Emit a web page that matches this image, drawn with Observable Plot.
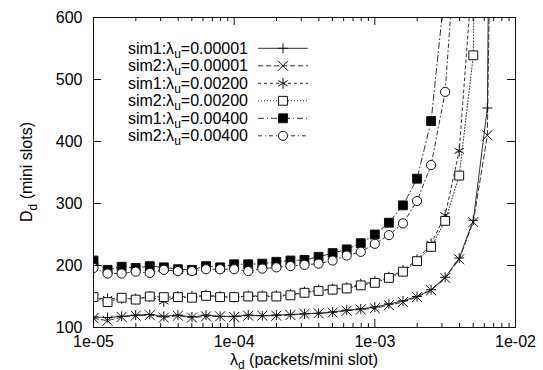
<!DOCTYPE html>
<html><head><meta charset="utf-8">
<script src="https://cdn.jsdelivr.net/npm/d3@7"></script>
<script src="https://cdn.jsdelivr.net/npm/@observablehq/plot@0.6"></script>
<style>
body{margin:0;background:#fff}
svg{font-family:"Liberation Sans",Arial,Helvetica,sans-serif}
</style>
</head><body><div id="chart"></div>
<script>
// x positions (lambda_d) of the simulation points
const xVals = [1e-5, 1.259e-5, 1.585e-5, 1.995e-5, 2.512e-5, 3.162e-5, 3.981e-5, 5.012e-5, 6.310e-5, 7.943e-5,
  1e-4, 1.259e-4, 1.585e-4, 1.995e-4, 2.512e-4, 3.162e-4, 3.981e-4, 5.012e-4, 6.310e-4, 7.943e-4,
  1e-3, 1.259e-3, 1.585e-3, 1.995e-3, 2.512e-3, 3.162e-3, 3.981e-3, 5.012e-3, 6.310e-3, 7.943e-3];

const sim1_00001 = [117,116,118,120,121,118,120,117,120,118, 118,120,119,120,121,122,123,125,128,130, 133,138,143,150,161,181,212,273,454,3000];
const sim2_00001 = [115,111,117,119,120,116,119,116,118,118, 117,119,119,119,120,122,123,124,127,129, 131,136,141,149,160,180,210,270,410,2000];
const sim1_00200 = [148,146,147,146,150,142,150,150,152,150, 149,151,151,151,153,157,160,162,164,170, 174,181,192,209,235,281,385,690];
const sim2_00200 = [149,141,148,145,150,149,149,148,151,149, 149,150,150,150,152,156,159,161,163,168, 172,180,190,207,230,272,345,539,2000];
const sim1_00400 = [208,193,198,196,199,197,194,193,199,197, 202,202,203,206,208,209,214,220,226,236, 250,269,297,340,433,650];
const sim2_00400 = [196,187,187,190,188,193,191,191,194,194, 194,191,195,197,199,201,203,208,216,222, 235,249,268,304,362,480,800];

const seriesNames = ["sim1:0.00001","sim2:0.00001","sim1:0.00200","sim2:0.00200","sim1:0.00400","sim2:0.00400"];
const seriesSim = ["sim1","sim2","sim1","sim2","sim1","sim2"];
const seriesLambda = ["0.00001","0.00001","0.00200","0.00200","0.00400","0.00400"];
const seriesValues = [sim1_00001, sim2_00001, sim1_00200, sim2_00200, sim1_00400, sim2_00400];

const xMajor = [1e-5, 1e-4, 1e-3, 1e-2];
const xTickLabels = ["1e-05","1e-04","1e-03","1e-02"];
const xMinor = [2e-5,3e-5,4e-5,5e-5,6e-5,7e-5,8e-5,9e-5, 2e-4,3e-4,4e-4,5e-4,6e-4,7e-4,8e-4,9e-4, 2e-3,3e-3,4e-3,5e-3,6e-3,7e-3,8e-3,9e-3];
const yTicks = [100,200,300,400,500,600];

// styles (kept apart from data)
const styles = [
  {dash: null,        symbol: "plus",     r: 3.3, fill: "none"},
  {dash: "5,3",       symbol: "times",    r: 4.6, fill: "none"},
  {dash: "3,3",       symbol: "asterisk", r: 5.2, fill: "none"},
  {dash: "1,2",       symbol: "square",   r: 5,   fill: "white"},
  {dash: "6,3,1,3",   symbol: "square",   r: 5,   fill: "black"},
  {dash: "4,3,1,3",   symbol: "circle",   r: 4.6, fill: "white"}
];

const rows = [];
seriesValues.forEach((vals, s) => vals.forEach((v, i) => rows.push({s, name: seriesNames[s], x: xVals[i], y: v})));

const W = 543, H = 370, mL = 93, mR = 28, mT = 17, mB = 43;
const pw = W - mL - mR, ph = H - mT - mB;
const ink = "#111";

const marks = [];
styles.forEach((st, s) => {
  const d = rows.filter(r => r.s === s);
  marks.push(Plot.line(d, {x: "x", y: "y", stroke: "#333", strokeWidth: 1, strokeDasharray: st.dash, clip: true}));
});
styles.forEach((st, s) => {
  const d = rows.filter(r => r.s === s);
  marks.push(Plot.dot(d, {x: "x", y: "y", symbol: () => st.symbol, r: st.r, stroke: ink, strokeWidth: 1, fill: st.fill, clip: true}));
});

const chart = Plot.plot({
  width: W, height: H,
  marginLeft: mL, marginRight: mR, marginTop: mT, marginBottom: mB,
  x: {type: "log", domain: [1e-5, 1e-2]},
  y: {domain: [100, 600]},
  symbol: {type: "identity"},
  style: {fontFamily: '"Liberation Sans",Arial,sans-serif', fontSize: "16px", background: "white", color: "black"},
  marks: [
    ...marks,
    Plot.tickX(xMajor, {x: d => d, insetTop: ph - 8, stroke: ink}),
    Plot.tickX(xMajor, {x: d => d, insetBottom: ph - 8, stroke: ink}),
    Plot.tickX(xMinor, {x: d => d, insetTop: ph - 4, stroke: ink}),
    Plot.tickX(xMinor, {x: d => d, insetBottom: ph - 4, stroke: ink}),
    Plot.tickY(yTicks, {y: d => d, insetRight: pw - 8, stroke: ink}),
    Plot.tickY(yTicks, {y: d => d, insetLeft: pw - 8, stroke: ink}),
    Plot.frame({stroke: ink, strokeWidth: 1}),
    Plot.axisX({ticks: xMajor, tickSize: 0, tickPadding: 8, label: null, fontSize: 16,
      tickFormat: d => xTickLabels[xMajor.indexOf(d)]}),
    Plot.axisY({ticks: yTicks, tickSize: 0, tickPadding: 11, label: null, fontSize: 16})
  ]
});
document.getElementById("chart").appendChild(chart);

// axis titles and legend
const svg = d3.select(chart);
const xt = svg.append("text").attr("x", mL + pw / 2).attr("y", 365).attr("text-anchor", "middle")
  .attr("font-size", 16).attr("fill", "black");
xt.append("tspan").text("λ");
xt.append("tspan").attr("dy", 3.5).attr("font-size", 12).text("d");
xt.append("tspan").attr("dy", -3.5).text(" (packets/mini slot)");

const yt = svg.append("text").attr("transform", `translate(32,${mT + ph / 2}) rotate(-90)`)
  .attr("text-anchor", "middle").attr("font-size", 16).attr("fill", "black");
yt.append("tspan").text("D");
yt.append("tspan").attr("dy", 5).attr("font-size", 12).text("d");
yt.append("tspan").attr("dy", -5).text(" (mini slots)");

const symMap = {plus: d3.symbolPlus, times: d3.symbolTimes, asterisk: d3.symbolAsterisk, square: d3.symbolSquare, circle: d3.symbolCircle};
const lg = svg.append("g");
styles.forEach((st, s) => {
  const cy = 48.3 + s * 17.5;
  const t = lg.append("text").attr("x", 248).attr("y", cy + 5.5).attr("text-anchor", "end")
    .attr("font-size", 16).attr("fill", "black");
  t.append("tspan").text(seriesSim[s] + ":λ");
  t.append("tspan").attr("dy", 4).attr("font-size", 12).text("u");
  t.append("tspan").attr("dy", -4).text("=" + seriesLambda[s]);
  lg.append("line").attr("x1", 258).attr("x2", 308).attr("y1", cy).attr("y2", cy)
    .attr("stroke", "#333").attr("stroke-dasharray", st.dash);
  lg.append("path").attr("transform", `translate(283,${cy})`)
    .attr("d", d3.symbol(symMap[st.symbol], Math.PI * st.r * st.r)())
    .attr("stroke", ink).attr("fill", st.fill);
});
</script>
</body></html>
